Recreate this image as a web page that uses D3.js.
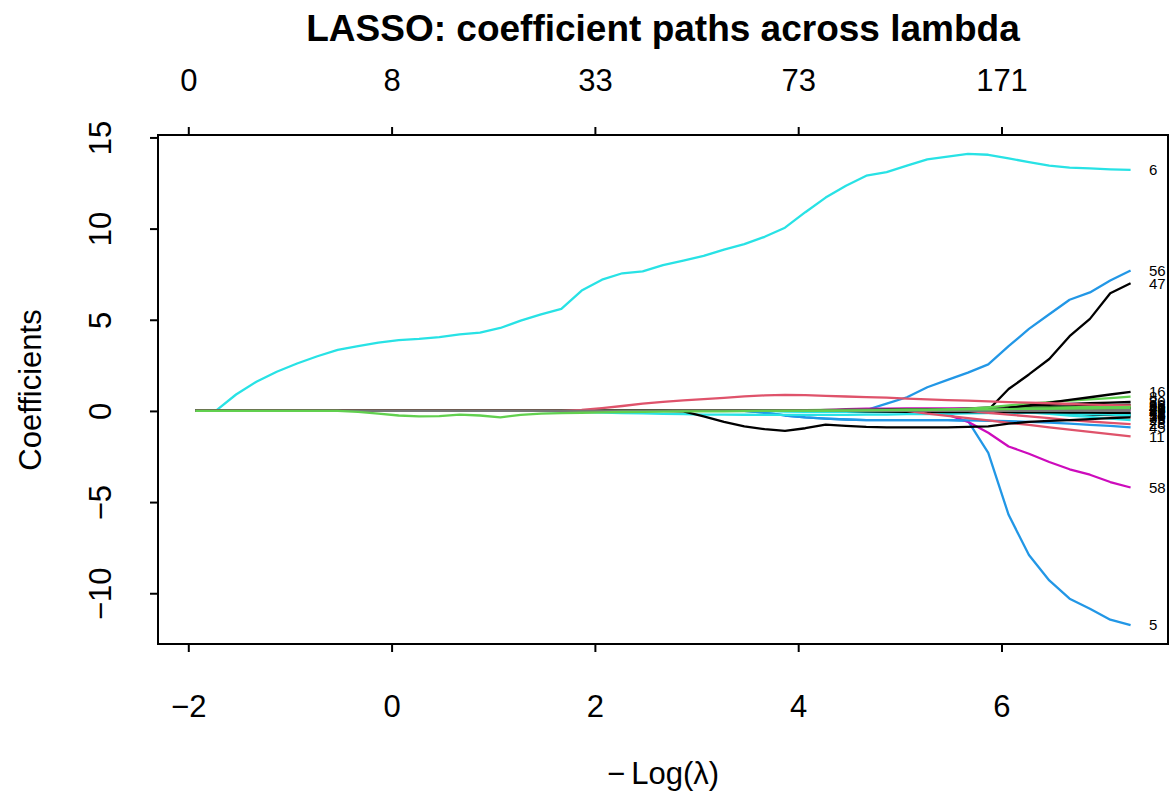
<!DOCTYPE html>
<html>
<head>
<meta charset="utf-8">
<script src="https://cdn.jsdelivr.net/npm/d3@7"></script>
<style>
  body { margin: 0; background: #fff; }
  svg text { font-family: "Liberation Sans", Arial, sans-serif; }
</style>
</head>
<body>
<svg id="chart" width="1173" height="793"></svg>
<script>
// -log(lambda) grid
const logLambda = [-1.93, -1.73, -1.53, -1.33, -1.13, -0.93, -0.73, -0.53, -0.33, -0.13,
  0.07, 0.27, 0.47, 0.67, 0.87, 1.07, 1.27, 1.47, 1.67, 1.87,
  2.07, 2.27, 2.47, 2.67, 2.87, 3.07, 3.27, 3.47, 3.67, 3.87,
  4.07, 4.27, 4.47, 4.67, 4.87, 5.07, 5.27, 5.47, 5.67, 5.87,
  6.07, 6.27, 6.47, 6.67, 6.87, 7.07, 7.27];

const xTicks = [-2, 0, 2, 4, 6];
const dfLabels = ['0', '8', '33', '73', '171'];
const yTicks = [-10, -5, 0, 5, 10, 15];

// coefficient paths (values only where the path has left zero; earlier points are 0)
const coef6 = [0, 0, 0.9, 1.6, 2.15, 2.6, 3.0, 3.35, 3.55, 3.75,
  3.88, 3.95, 4.05, 4.2, 4.3, 4.55, 4.95, 5.3, 5.6, 6.6,
  7.2, 7.55, 7.65, 8.0, 8.25, 8.5, 8.85, 9.15, 9.55, 10.05,
  10.9, 11.7, 12.35, 12.9, 13.1, 13.45, 13.8, 13.95, 14.1, 14.05,
  13.85, 13.65, 13.45, 13.35, 13.3, 13.25, 13.22];
const coef56 = [0, 0.05, 0.4, 0.75, 1.3, 1.7, 2.1, 2.55, 3.55, 4.5, 5.3, 6.1, 6.5, 7.15, 7.7];
const coef47 = [0, 0.05, 1.2, 2.0, 2.85, 4.1, 5.05, 6.45, 7.0];
const coef5 = [0, -0.1, -0.25, -0.35, -0.42, -0.47, -0.5, -0.5, -0.5, -0.5, -0.5, -0.55,
  -2.3, -5.7, -7.9, -9.3, -10.3, -10.85, -11.45, -11.75];
const coef58 = [0, -0.2, -0.6, -1.2, -1.95, -2.35, -2.8, -3.2, -3.5, -3.9, -4.2];
const coef26 = [0, 0.05, 0.15, 0.27, 0.4, 0.5, 0.58, 0.65, 0.72, 0.8, 0.85, 0.88, 0.87, 0.83,
  0.79, 0.76, 0.73, 0.68, 0.63, 0.59, 0.56, 0.52, 0.48, 0.45, 0.42, 0.38, 0.35, 0.32, 0.3];
const coef3 = [0, -0.05, -0.15, -0.25, -0.3, -0.28, -0.2, -0.25, -0.35, -0.22, -0.15, -0.12,
  -0.1, -0.08, -0.06, -0.05, -0.04, -0.03, -0.02, -0.02, -0.01, 0, 0, 0, 0.01, 0.02, 0.03,
  0.04, 0.05, 0.06, 0.07, 0.08, 0.09, 0.1, 0.12, 0.14, 0.16, 0.18, 0.2, 0.22];
const coef30 = [0, -0.02, -0.3, -0.6, -0.85, -1.0, -1.1, -0.95, -0.75, -0.82, -0.88, -0.9,
  -0.9, -0.9, -0.9, -0.88, -0.85, -0.7, -0.6, -0.55, -0.5, -0.45, -0.4, -0.35];
const coef45 = [0, -0.1, -0.25, -0.35, -0.42, -0.47, -0.5, -0.5, -0.5, -0.5, -0.5, -0.52,
  -0.54, -0.56, -0.6, -0.64, -0.7, -0.76, -0.82, -0.9];
const coef17 = [0, -0.03, -0.06, -0.09, -0.12, -0.14, -0.16, -0.18, -0.2, -0.2, -0.21, -0.22,
  -0.22, -0.22, -0.22, -0.22, -0.2, -0.2, -0.18, -0.18, -0.16, -0.14, -0.12, -0.1, -0.1,
  -0.12, -0.15, -0.18, -0.2, -0.25];
const coef11 = [0, -0.15, -0.27, -0.4, -0.52, -0.65, -0.77, -0.9, -1.02, -1.15, -1.27, -1.4];
const coef28 = [0, -0.1, -0.2, -0.3, -0.4, -0.5, -0.58, -0.65, -0.72];
const coef16 = [0, 0.05, 0.15, 0.3, 0.45, 0.6, 0.75, 0.9, 1.05];
const coef8 = [0, 0.05, 0.12, 0.2, 0.3, 0.4, 0.48, 0.56, 0.63, 0.7, 0.78];
const coef20 = [0, 0.03, 0.07, 0.1, 0.14, 0.18, 0.23, 0.28, 0.33, 0.38, 0.42, 0.46, 0.5];
const coef33 = [0, 0.03, 0.06, 0.1, 0.13, 0.17, 0.21, 0.25, 0.29, 0.32, 0.35];
const coef41 = [0, 0.02, 0.05, 0.08, 0.1, 0.13, 0.15, 0.18, 0.2];
const coef12 = [0, -0.02, -0.04, -0.06, -0.08, -0.1, -0.11, -0.12, -0.14, -0.15];
const coef50 = [0, -0.05, -0.1, -0.15, -0.2, -0.23, -0.26];
const coef9 = [0, 0.02, 0.04, 0.06, 0.08, 0.1, 0.12, 0.14, 0.16, 0.18, 0.2, 0.22, 0.24, 0.26];
const coef27 = [0, 0.02, 0.04, 0.06, 0.08, 0.1, 0.12, 0.14];
const coef18 = [0, 0.05, 0.1, 0.12, 0.13, 0.14, 0.14, 0.14, 0.13, 0.12, 0.11, 0.1, 0.09,
  0.08, 0.07, 0.06, 0.05];
const coef23 = [0, -0.08, -0.16, -0.25, -0.33, -0.42, -0.5];
const coef36 = [0, 0.01, 0.02, 0.03, 0.04];
const coef40 = [0, 0.03, 0.05, 0.06, 0.07, 0.08, 0.08, 0.09, 0.09, 0.1, 0.1, 0.11, 0.12,
  0.12, 0.13, 0.14, 0.15];
const coef42 = [0, -0.03, -0.04, -0.05, -0.05, -0.06, -0.06, -0.07, -0.07, -0.08, -0.08, -0.09,
  -0.09, -0.1, -0.1];
const coef25 = [0, 0.03, 0.04, 0.05, 0.05, 0.06, 0.06, 0.07, 0.07, 0.08, 0.09, 0.1, 0.1, 0.11,
  0.11, 0.12, 0.12, 0.13, 0.13];
const coef14 = [0, -0.04, -0.05, -0.05, -0.05, -0.06, -0.06, -0.06, -0.07, -0.07, -0.08, -0.08,
  -0.09, -0.1, -0.11, -0.12, -0.13, -0.14, -0.15];

// drawing order: later paths sit on top
const varLabels = ['6', '56', '47', '5', '58', '45', '12', '50', '41', '33', '20', '9', '27',
  '18', '23', '17', '14', '40', '42', '25', '28', '11', '30', '8', '16', '26', '36', '3'];
const varCoefs = [coef6, coef56, coef47, coef5, coef58, coef45, coef12, coef50, coef41, coef33,
  coef20, coef9, coef27, coef18, coef23, coef17, coef14, coef40, coef42, coef25, coef28, coef11,
  coef30, coef8, coef16, coef26, coef36, coef3];
const varColors = ['#28E2E5', '#2297E6', 'black', '#2297E6', '#CD0BBC', '#2297E6', 'black',
  'black', 'black', 'black', 'black', '#61D04F', '#61D04F', '#CD0BBC', '#28E2E5', '#28E2E5',
  '#28E2E5', 'black', 'black', '#61D04F', '#DF536B', '#DF536B', 'black', '#61D04F', 'black',
  '#DF536B', '#777777', '#61D04F'];

// paths are flat at zero before they enter the model
function fullPath(vals) {
  const n = logLambda.length - vals.length;
  return logLambda.map((x, i) => [x, i < n ? 0 : vals[i - n]]);
}

const svg = d3.select('#chart');
const plotLeft = 158, plotRight = 1168, plotTop = 135, plotBottom = 644;
const baseFont = 31;

const paths = varCoefs.map(fullPath);
const allY = paths.flat().map(d => d[1]);

function padded(ext) {
  const p = (ext[1] - ext[0]) * 0.04;
  return [ext[0] - p, ext[1] + p];
}
const x = d3.scaleLinear().domain(padded(d3.extent(logLambda))).range([plotLeft, plotRight]);
const y = d3.scaleLinear().domain(padded(d3.extent(allY))).range([plotBottom, plotTop]);

const line = d3.line().x(d => x(d[0])).y(d => y(d[1]));

svg.append('g').selectAll('path')
  .data(paths)
  .enter().append('path')
  .attr('d', line)
  .attr('fill', 'none')
  .attr('stroke', (d, i) => varColors[i])
  .attr('stroke-width', 2.3)
  .attr('stroke-linejoin', 'round');

// variable labels at the right end (they overlap in the cluster, as in glmnet's plot)
svg.append('g').selectAll('text')
  .data(paths)
  .enter().append('text')
  .attr('x', 1149)
  .attr('y', d => y(d[d.length - 1][1]))
  .attr('dy', '0.35em')
  .attr('font-size', 15)
  .text((d, i) => varLabels[i]);

// box
svg.append('rect')
  .attr('x', plotLeft).attr('y', plotTop)
  .attr('width', plotRight - plotLeft).attr('height', plotBottom - plotTop)
  .attr('fill', 'none').attr('stroke', 'black').attr('stroke-width', 2);

function styleAxis(g) {
  g.select('.domain').remove();
  g.selectAll('.tick line').attr('stroke', 'black').attr('stroke-width', 2);
  g.selectAll('.tick text').attr('font-size', baseFont).attr('fill', 'black')
    .style('font-family', '"Liberation Sans", Arial, sans-serif');
}

const minus = d => d < 0 ? '\u2212' + Math.abs(d) : d;

svg.append('g')
  .attr('transform', `translate(0,${plotBottom})`)
  .call(d3.axisBottom(x).tickValues(xTicks).tickSize(8).tickFormat(minus))
  .call(styleAxis)
  .selectAll('.tick text').attr('y', 62).attr('dy', '0.35em');

svg.append('g')
  .attr('transform', `translate(0,${plotTop})`)
  .call(d3.axisTop(x).tickValues(xTicks).tickSize(8).tickFormat((d, i) => dfLabels[i]))
  .call(styleAxis)
  .selectAll('.tick text').attr('y', -55).attr('dy', '0.35em');

const yAxis = svg.append('g')
  .attr('transform', `translate(${plotLeft},0)`)
  .call(d3.axisLeft(y).tickValues(yTicks).tickSize(8).tickFormat(minus))
  .call(styleAxis);
yAxis.selectAll('.tick text')
  .attr('x', null).attr('dy', '0.35em')
  .attr('text-anchor', 'middle')
  .attr('transform', 'translate(-58,0) rotate(-90)');

// titles
svg.append('text')
  .attr('x', (plotLeft + plotRight) / 2).attr('y', 28)
  .attr('dy', '0.35em')
  .attr('text-anchor', 'middle')
  .attr('font-size', 37).attr('font-weight', 'bold')
  .text('LASSO: coefficient paths across lambda');

svg.append('text')
  .attr('x', (plotLeft + plotRight) / 2).attr('y', 773)
  .attr('dy', '0.35em')
  .attr('text-anchor', 'middle')
  .attr('font-size', baseFont)
  .text('\u2212\u2009Log(\u03bb)');

svg.append('text')
  .attr('transform', 'translate(30,390) rotate(-90)')
  .attr('dy', '0.35em')
  .attr('text-anchor', 'middle')
  .attr('font-size', baseFont)
  .text('Coefficients');
</script>
</body>
</html>
